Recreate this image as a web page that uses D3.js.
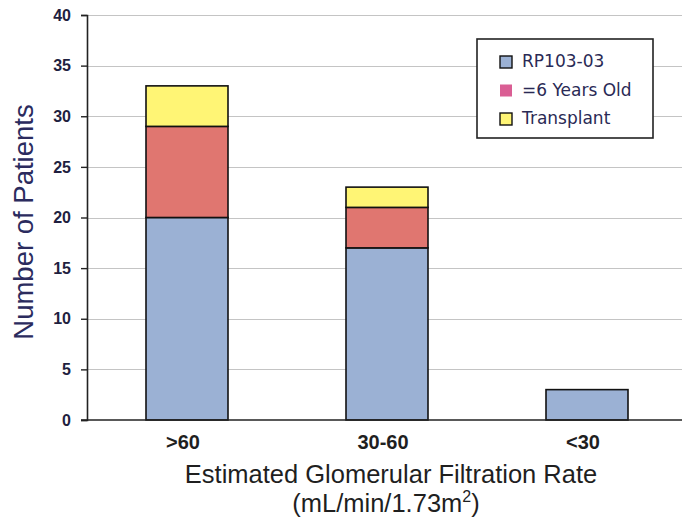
<!DOCTYPE html>
<html><head><meta charset="utf-8">
<script src="https://cdn.jsdelivr.net/npm/d3@7"></script>
<style>body{margin:0;background:#fff}svg{display:block}</style>
</head><body>
<script>
const categories = [">60", "30-60", "<30"];
const seriesNames = ["RP103-03", "=6 Years Old", "Transplant"];
const rp10303 = [20, 17, 3];
const sixYearsOld = [9, 4, 0];
const transplant = [4, 2, 0];
const yTicks = [0, 5, 10, 15, 20, 25, 30, 35, 40];
const barColors = ["#9BB1D4", "#E07670", "#FFF575"];
const legendColors = ["#9BB1D4", "#DA5E94", "#FFF575"];

const W = 682, H = 519;
const svg = d3.select("body").append("svg").attr("width", W).attr("height", H);
const x0 = 87, plotW = 600, y0 = 420, yTop = 15;
const x = d3.scaleBand().domain(categories).range([x0, x0 + plotW]).paddingInner(0.59).paddingOuter(0.295);
const y = d3.scaleLinear().domain([0, 40]).range([y0, yTop]);

// gridlines
svg.append("g").selectAll("line").data(yTicks.filter(d => d > 0)).join("line")
  .attr("x1", x0).attr("x2", W).attr("y1", d => Math.round(y(d)) + 0.5).attr("y2", d => Math.round(y(d)) + 0.5)
  .attr("stroke", "#c4c4c4").attr("stroke-width", 1);

const data = categories.map((c, i) => ({cat: c, s0: rp10303[i], s1: sixYearsOld[i], s2: transplant[i]}));
const stack = d3.stack().keys(["s0", "s1", "s2"])(data);
stack.forEach((layer, li) => {
  svg.append("g").selectAll("rect").data(layer.filter(d => d[1] > d[0])).join("rect")
    .attr("x", d => x(d.data.cat)).attr("width", x.bandwidth())
    .attr("y", d => y(d[1])).attr("height", d => y(d[0]) - y(d[1]))
    .attr("fill", barColors[li]).attr("stroke", "#111").attr("stroke-width", 1.6);
});

// y axis
const yAxis = d3.axisLeft(y).tickValues(yTicks).tickSize(6).tickPadding(10);
const ga = svg.append("g").attr("transform", `translate(${x0},0)`).call(yAxis);
ga.select(".domain").attr("stroke", "#222").attr("stroke-width", 1.6);
ga.selectAll(".tick line").attr("stroke", "#222").attr("stroke-width", 1.4);
ga.selectAll(".tick text").attr("font-family", "Liberation Sans").attr("font-weight", "bold")
  .attr("font-size", 16).attr("fill", "#1f1f3f");

// x axis
const xAxis = d3.axisBottom(x).tickSize(0).tickPadding(15);
const gx = svg.append("g").attr("transform", `translate(0,${y0})`).call(xAxis);
gx.select(".domain").attr("stroke", "#222").attr("stroke-width", 1.6).attr("d", `M${x0 - 6},0H${W}`);
gx.selectAll(".tick text").attr("font-family", "Liberation Sans").attr("font-weight", "bold")
  .attr("font-size", 20).attr("fill", "#1f1f1f").attr("dx", -4);

// axis titles
svg.append("text").attr("transform", "translate(33,222) rotate(-90)").attr("text-anchor", "middle")
  .attr("font-family", "Liberation Sans").attr("font-size", 27.5).attr("fill", "#2b2b5e").text("Number of Patients");
svg.append("text").attr("x", 391).attr("y", 483).attr("text-anchor", "middle")
  .attr("font-family", "Liberation Sans").attr("font-size", 25.5).attr("fill", "#1f1f1f").text("Estimated Glomerular Filtration Rate");
const t2 = svg.append("text").attr("x", 386).attr("y", 512).attr("text-anchor", "middle")
  .attr("font-family", "Liberation Sans").attr("font-size", 25.5).attr("fill", "#1f1f1f");
t2.append("tspan").text("(mL/min/1.73m");
t2.append("tspan").attr("font-size", 16).attr("dy", -10).text("2");
t2.append("tspan").attr("dy", 10).text(")");

// legend
const lg = svg.append("g").attr("transform", "translate(477,39)");
lg.append("rect").attr("width", 176).attr("height", 99).attr("fill", "#fff").attr("stroke", "#222").attr("stroke-width", 1.6);
seriesNames.forEach((n, i) => {
  const yy = 28 + i * 28.5;
  lg.append("rect").attr("x", 23).attr("y", yy - 11).attr("width", 12).attr("height", 12)
    .attr("fill", legendColors[i]).attr("stroke", i === 1 ? "none" : "#111").attr("stroke-width", 1.4);
  lg.append("text").attr("x", 45).attr("y", yy).attr("font-family", "DejaVu Sans").attr("font-size", 17)
    .attr("fill", "#2a2a55").text(n);
});
</script>
</body></html>
